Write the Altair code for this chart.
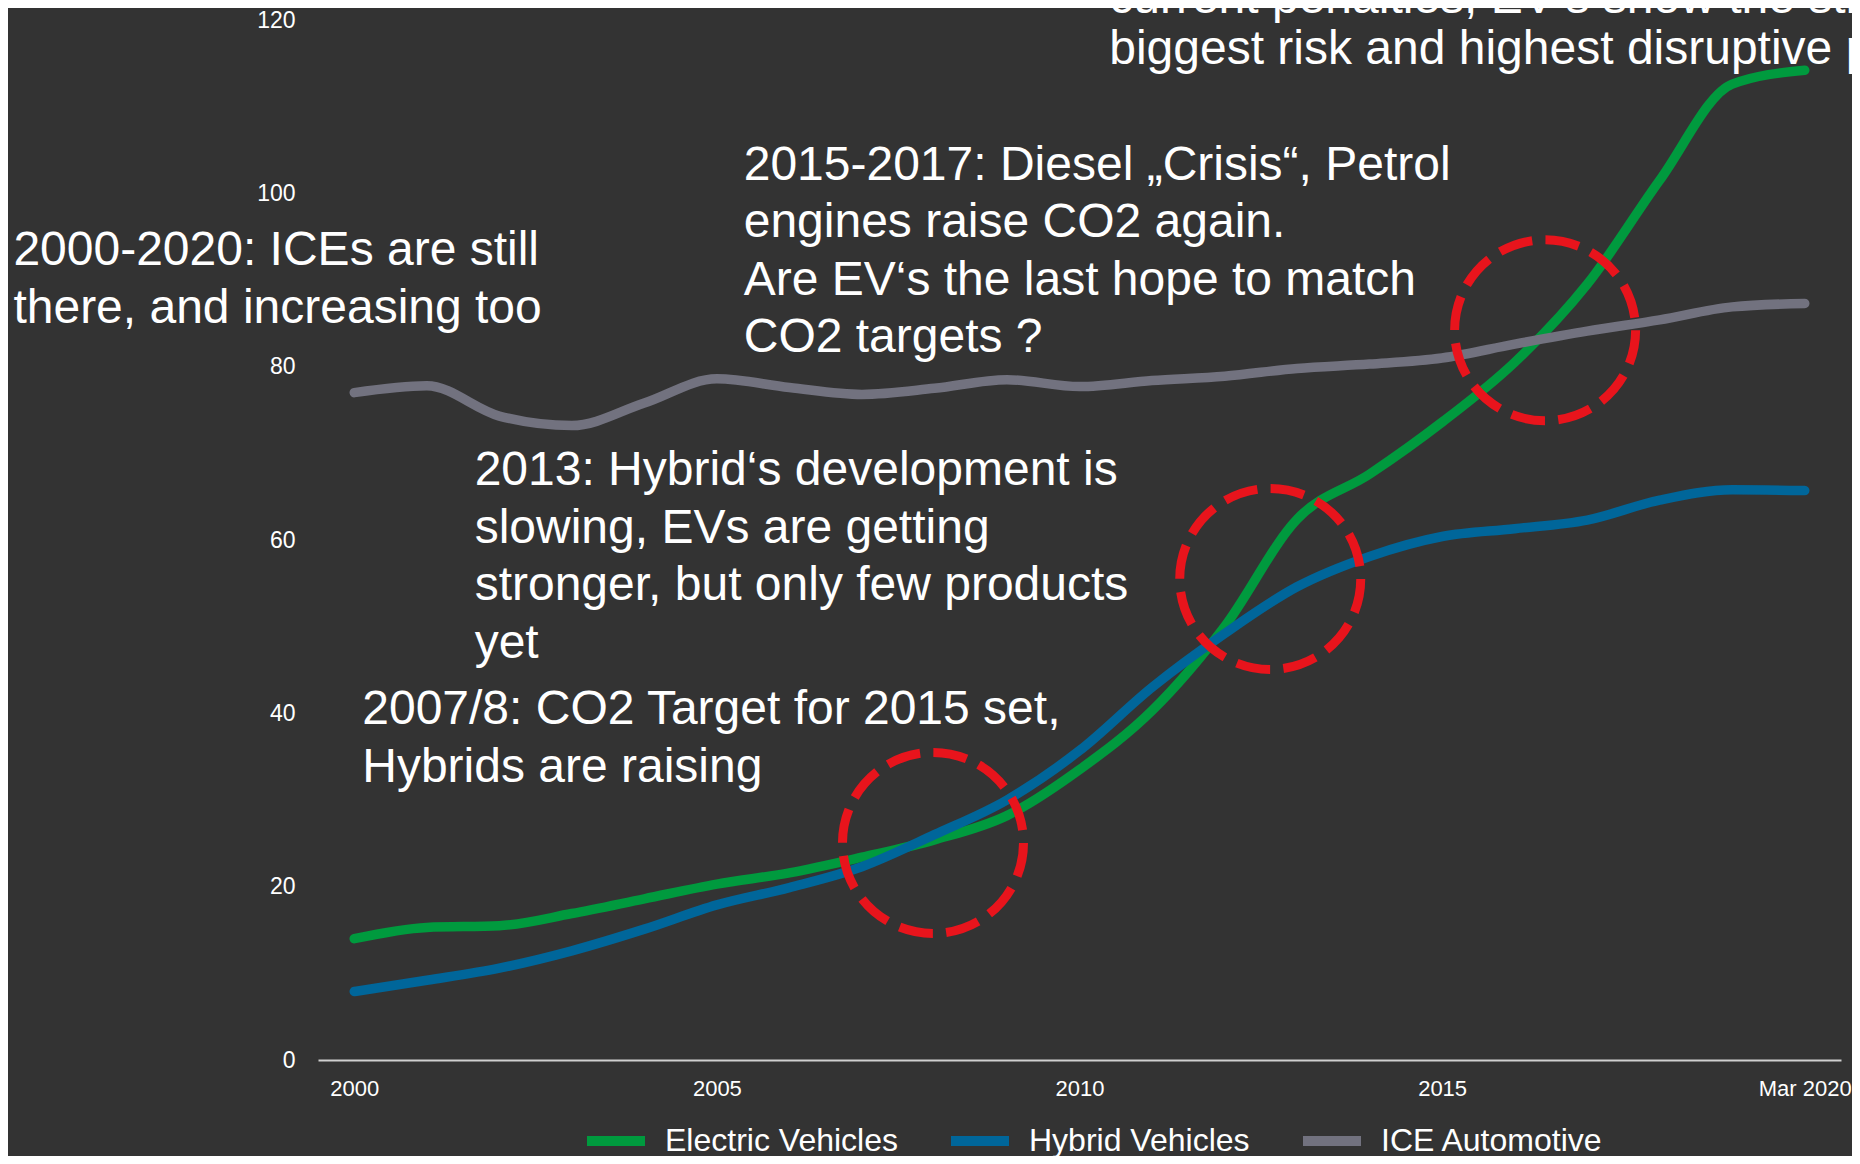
import altair as alt
import pandas as pd

# ---------------- data ----------------
years = list(range(2000, 2021))
ev = [14.0, 15.3, 15.5, 16.9, 18.6, 20.3, 21.6, 23.4, 25.4, 28.2, 33.5,
      40.3, 50.0, 62.4, 67.6, 73.6, 80.5, 89.5, 101.5, 112.6, 114.2]
hybrid = [7.9, 9.2, 10.6, 12.6, 15.1, 17.9, 19.9, 22.3, 26.0, 30.0, 35.7,
          43.0, 49.2, 54.6, 58.1, 60.4, 61.3, 62.3, 64.6, 65.8, 65.7]
ice = [77.0, 77.8, 74.3, 73.2, 75.8, 78.6, 77.6, 76.8, 77.5, 78.5, 77.7,
       78.4, 78.9, 79.8, 80.3, 81.0, 82.6, 84.1, 85.4, 86.9, 87.3]

series_names = ["Electric Vehicles", "Hybrid Vehicles", "ICE Automotive"]
series_colors = ["#009a3e", "#00669a", "#72727f"]

x_ticks = [2000, 2005, 2010, 2015, 2020]
y_ticks = [0, 20, 40, 60, 80, 100, 120]

# highlighted crossings (data coordinates)
circle_years = [2007.98, 2012.63, 2016.42]
circle_values = [25.05, 55.5, 84.2]

# annotations (anchored in data coordinates)
notes_text = [
    "2000-2020: ICEs are still\nthere, and increasing too",
    "2015-2017: Diesel \u201eCrisis\u201c, Petrol\nengines raise CO2 again.\nAre EV\u2018s the last hope to match\nCO2 targets ?",
    "2013: Hybrid\u2018s development is\nslowing, EVs are getting\nstronger, but only few products\nyet",
    "2007/8: CO2 Target for 2015 set,\nHybrids are raising",
]
notes_year = [1995.30, 2005.37, 2001.66, 2000.11]
notes_value = [91.73, 101.57, 66.33, 38.75]

top_note_text = ["current penalties, EV\u2018s show the strongest\nbiggest risk and highest disruptive potential"]
top_note_year = [2010.41]
top_note_value = [120.8]

# ---------------- tables ----------------
rows = []
for name, vals in zip(series_names, [ev, hybrid, ice]):
    for yr, v in zip(years, vals):
        rows.append({"year": yr, "value": v, "series": name})
df = pd.DataFrame(rows)
circles_df = pd.DataFrame({"year": circle_years, "value": circle_values})
notes_df = pd.DataFrame({"year": notes_year, "value": notes_value, "text": notes_text})
top_df = pd.DataFrame({"year": top_note_year, "value": top_note_value, "text": top_note_text})

FONT = "Liberation Sans"

xscale = alt.Scale(domain=[1999.5, 2020.5], nice=False, zero=False)
yscale = alt.Scale(domain=[0, 120], nice=False, zero=True)

xaxis = alt.Axis(
    values=x_ticks, format="d",
    labelExpr="datum.value == 2020 ? 'Mar 2020' : datum.label",
    ticks=False, grid=False, domainColor="#d0d0d0", domainWidth=2,
    labelColor="white", labelFontSize=22, labelFont=FONT, labelPadding=18,
    labelFlush=False, labelOverlap=False, title=None,
)
yaxis = alt.Axis(
    values=y_ticks, domain=False, ticks=False, grid=False,
    labelColor="white", labelFontSize=23, labelFont=FONT, labelPadding=23,
    labelFlush=False, labelOverlap=False, title=None,
)

X = alt.X("year:Q", scale=xscale, axis=xaxis)
Y = alt.Y("value:Q", scale=yscale, axis=yaxis)

lines = alt.Chart(df).mark_line(
    interpolate="monotone", strokeWidth=9.5, strokeCap="round"
).encode(
    x=X, y=Y,
    color=alt.Color(
        "series:N",
        scale=alt.Scale(domain=series_names, range=series_colors),
        legend=alt.Legend(
            title=None, orient="none", legendX=264, legendY=1087,
            direction="horizontal", symbolType="stroke",
            symbolStrokeWidth=10, symbolSize=3364,
            labelFontSize=32, labelFont=FONT, labelColor="white",
            labelOffset=15, columnPadding=33, padding=0, labelLimit=500,
        ),
    ),
)

circles = alt.Chart(circles_df).mark_point(
    shape="circle", size=32761, filled=False, color="#e8141c",
    strokeWidth=9, strokeDash=[34, 13.35], opacity=1,
).encode(x=X, y=Y)

notes = alt.Chart(notes_df).mark_text(
    lineBreak="\n", align="left", baseline="alphabetic",
    fontSize=48, font=FONT, color="white", lineHeight=57.5,
).encode(x=X, y=Y, text="text:N")

top_note = alt.Chart(top_df).mark_text(
    lineBreak="\n", align="left", baseline="alphabetic",
    fontSize=48, font=FONT, color="white", lineHeight=51,
).encode(x=X, y=Y, text="text:N")

chart = alt.layer(lines, circles, notes, top_note).properties(
    width=1523, height=1040,
    autosize=alt.AutoSizeParams(type="none"),
    padding={"left": 310, "top": 12, "right": 11, "bottom": 96},
    background="#333333",
).configure_view(stroke=None)

chart.save("out.html", embed_options={"renderer": "svg", "actions": False})
